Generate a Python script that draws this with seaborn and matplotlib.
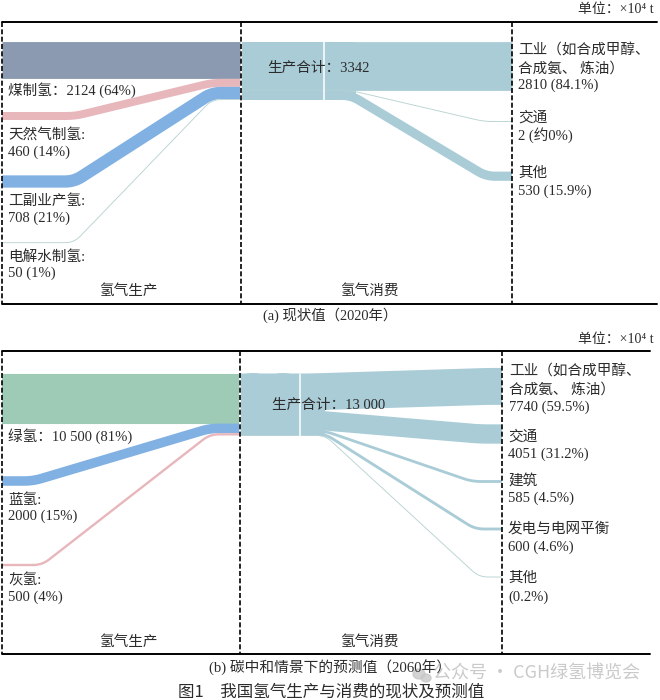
import numpy as np
import matplotlib
matplotlib.use("Agg")
import matplotlib.pyplot as plt
from matplotlib.patches import Ellipse
import seaborn as sns

# -----------------------------------------------------------------------------
# data (unit: 10^4 t)
# -----------------------------------------------------------------------------
prod_a = [2124, 460, 708, 50]
cons_a = [2810, 2, 530]
prod_b = [10500, 2000, 500]
cons_b = [7740, 4051, 585, 600, 24]

prod_a_labels = [["煤制氢：2124 (64%)"], ["天然气制氢:", "460 (14%)"],
                 ["工副业产氢:", "708 (21%)"], ["电解水制氢:", "50 (1%)"]]
cons_a_labels = [["工业（如合成甲醇、", "合成氨、 炼油）", "2810 (84.1%)"],
                 ["交通", "2 (约0%)"], ["其他", "530 (15.9%)"]]
prod_b_labels = [["绿氢：10 500 (81%)"], ["蓝氢:", "2000 (15%)"], ["灰氢:", "500 (4%)"]]
cons_b_labels = [["工业（如合成甲醇、", "合成氨、 炼油）", "7740 (59.5%)"],
                 ["交通", "4051 (31.2%)"], ["建筑", "585 (4.5%)"],
                 ["发电与电网平衡", "600 (4.6%)"], ["其他", "(0.2%)"]]

# colours
COAL, PINK, BLUE, THIN = "#8b9ab0", "#e8b7bc", "#80b1e2", "#b8d3d2"
GREEN, TEAL = "#9ecbb6", "#a9ccd7"
INK = "#2b2b2b"

sns.set_theme(style="white")
plt.rcParams["font.family"] = ["Liberation Serif", "Noto Sans CJK SC"]

fig = plt.figure(figsize=(6.6, 7), dpi=100)
ax = fig.add_axes([0, 0, 1, 1])


def rounded(x0, y0, xa, xb, y1, x1, r=9):
    """lane path with soft corners: flat, slope, flat"""
    p = np.array([[x0, y0], [xa, y0], [xb, y1], [x1, y1]], dtype=float)
    out = [p[0]]
    for i in (1, 2):
        a = p[i] + (p[i - 1] - p[i]) / np.linalg.norm(p[i - 1] - p[i]) * r
        b = p[i] + (p[i + 1] - p[i]) / np.linalg.norm(p[i + 1] - p[i]) * r
        for t in np.linspace(0, 1, 10):
            out.append((1 - t) ** 2 * a + 2 * t * (1 - t) * p[i] + t ** 2 * b)
    out.append(p[3])
    return np.array(out)


def band(path, value, scale, color):
    # 72/100 -> pixel width to points
    lw = max(value * scale, 0.9) * 0.72
    sns.lineplot(x=path[:, 0], y=path[:, 1], ax=ax, color=color, linewidth=lw, sort=False,
                 estimator=None, solid_capstyle="butt", solid_joinstyle="round", legend=False)


def stack(values, top, scale):
    """centre of every band when they are stacked from top"""
    edges = top + np.cumsum([0] + list(values)) * scale
    return (edges[:-1] + edges[1:]) / 2


def block(lines, x, ys, size=10.5):
    for line, y in zip(lines, ys):
        ax.text(x, y, line, fontsize=size, color=INK, ha="left", va="center")


def frame(top, bottom, right, xs):
    ax.plot([2, right], [top, top], color="black", lw=1.4)
    ax.plot([2, right], [bottom, bottom], color="black", lw=1.4)
    for x in xs:
        ax.plot([x, x], [top, bottom], color="black", lw=1.2, dashes=(3, 1.4))


# -----------------------------------------------------------------------------
# (a) 2020
# -----------------------------------------------------------------------------
scale_a = 58.0 / sum(prod_a)
top_a = 42.0
left = stack(prod_a, top_a, scale_a)
right = stack(cons_a, top_a, scale_a)

band(rounded(2, left[0], 80, 200, left[0], 240), prod_a[0], scale_a, COAL)
band(rounded(2, 116, 75, 212, left[1], 240), prod_a[1], scale_a, PINK)
band(rounded(2, 181.5, 74, 212, left[2], 240), prod_a[2], scale_a, BLUE)
band(rounded(2, 242.7, 74, 212, left[3], 240), prod_a[3], scale_a, THIN)

band(rounded(242, top_a + 29, 280, 320, top_a + 29, 356), sum(cons_a), scale_a, TEAL)
band(rounded(242, right[0], 350, 480, right[0], 512), cons_a[0], scale_a, TEAL)
band(rounded(242, right[1], 352, 484, 121.5, 512), cons_a[1], scale_a, THIN)
band(rounded(242, right[2], 351, 486, 176.2, 512), cons_a[2], scale_a, TEAL)
ax.plot([324, 324], [top_a, top_a + 58], color="white", lw=1.1)

frame(21.5, 304, 657, [2, 240.5, 512])
ax.text(654, 10, "单位：×10⁴ t", fontsize=10, color=INK, ha="right", va="center")

block(prod_a_labels[0], 8, [90.5])
block(prod_a_labels[1], 8, [135, 152])
block(prod_a_labels[2], 8, [201, 218])
block(prod_a_labels[3], 8, [257, 273.5])
block(cons_a_labels[0], 518, [51, 68.5, 85.5])
block(cons_a_labels[1], 518, [118, 135.5])
block(cons_a_labels[2], 518, [173.5, 191])
block(["生产合计：3342"], 267, [68.5])
ax.text(128, 291, "氢气生产", fontsize=10.5, color=INK, ha="center", va="center")
ax.text(369, 291, "氢气消费", fontsize=10.5, color=INK, ha="center", va="center")
ax.text(330, 315.5, "(a) 现状值（2020年）", fontsize=10.4, color=INK, ha="center", va="center")

# -----------------------------------------------------------------------------
# (b) 2060
# -----------------------------------------------------------------------------
scale_b = 62.0 / sum(prod_b)
top_b = 373.5
left = stack(prod_b, top_b, scale_b)
right = stack(cons_b, top_b, scale_b)

band(rounded(2, left[0], 80, 200, left[0], 239), prod_b[0], scale_b, GREEN)
band(rounded(2, 481, 33, 210, left[1], 239), prod_b[1], scale_b, BLUE)
band(rounded(2, 565, 42, 210, left[2], 239), prod_b[2], scale_b, PINK)

band(rounded(241, top_b + 31, 260, 290, top_b + 31, 325), sum(prod_b), scale_b, TEAL)
band(rounded(241, right[0], 310, 488, 386.4, 502), cons_b[0], scale_b, TEAL)
band(rounded(241, right[1], 315, 480, 434, 502), cons_b[1], scale_b, TEAL)
band(rounded(241, right[2], 325, 472, 481.5, 502), cons_b[2], scale_b, TEAL)
band(rounded(241, right[3], 325, 475, 529, 502), cons_b[3], scale_b, TEAL)
band(rounded(241, right[4], 325, 479, 577, 502), cons_b[4], scale_b, THIN)
ax.plot([300, 300], [top_b, top_b + 62], color="white", lw=1.1)

frame(351, 654, 650, [2, 239.5, 501.7])
ax.text(654, 339, "单位：×10⁴ t", fontsize=10, color=INK, ha="right", va="center")

block(prod_b_labels[0], 8, [436])
block(prod_b_labels[1], 8, [500, 516.5])
block(prod_b_labels[2], 8, [580, 597])
block(cons_b_labels[0], 509, [372, 390, 407])
block(cons_b_labels[1], 508, [437, 454])
block(cons_b_labels[2], 508, [481, 498])
block(cons_b_labels[3], 508, [529, 547])
block(cons_b_labels[4], 508, [578, 597])
block(["生产合计：13 000"], 272, [405])
ax.text(128, 642, "氢气生产", fontsize=10.5, color=INK, ha="center", va="center")
ax.text(369, 642, "氢气消费", fontsize=10.5, color=INK, ha="center", va="center")
ax.text(330, 668, "(b) 碳中和情景下的预测值（2060年）", fontsize=10.6, color=INK, ha="center", va="center")

ax.text(178, 692, "图1　我国氢气生产与消费的现状及预测值", fontsize=11.9, color=INK,
        family="Noto Sans CJK SC", ha="left", va="center")

# watermark
ax.add_patch(Ellipse((419, 674), 12, 10, color="#c8c8c8", alpha=0.8))
ax.add_patch(Ellipse((426, 678), 10, 8, color="#c8c8c8", alpha=0.8))
ax.text(433, 674, "公众号 · CGH绿氢博览会", fontsize=13, color="#bdbdbd", alpha=0.8,
        family="Noto Sans CJK SC", ha="left", va="center")

ax.set_xlim(0, 660)
ax.set_ylim(700, 0)
ax.axis("off")
fig.savefig("out.png", dpi=100)
